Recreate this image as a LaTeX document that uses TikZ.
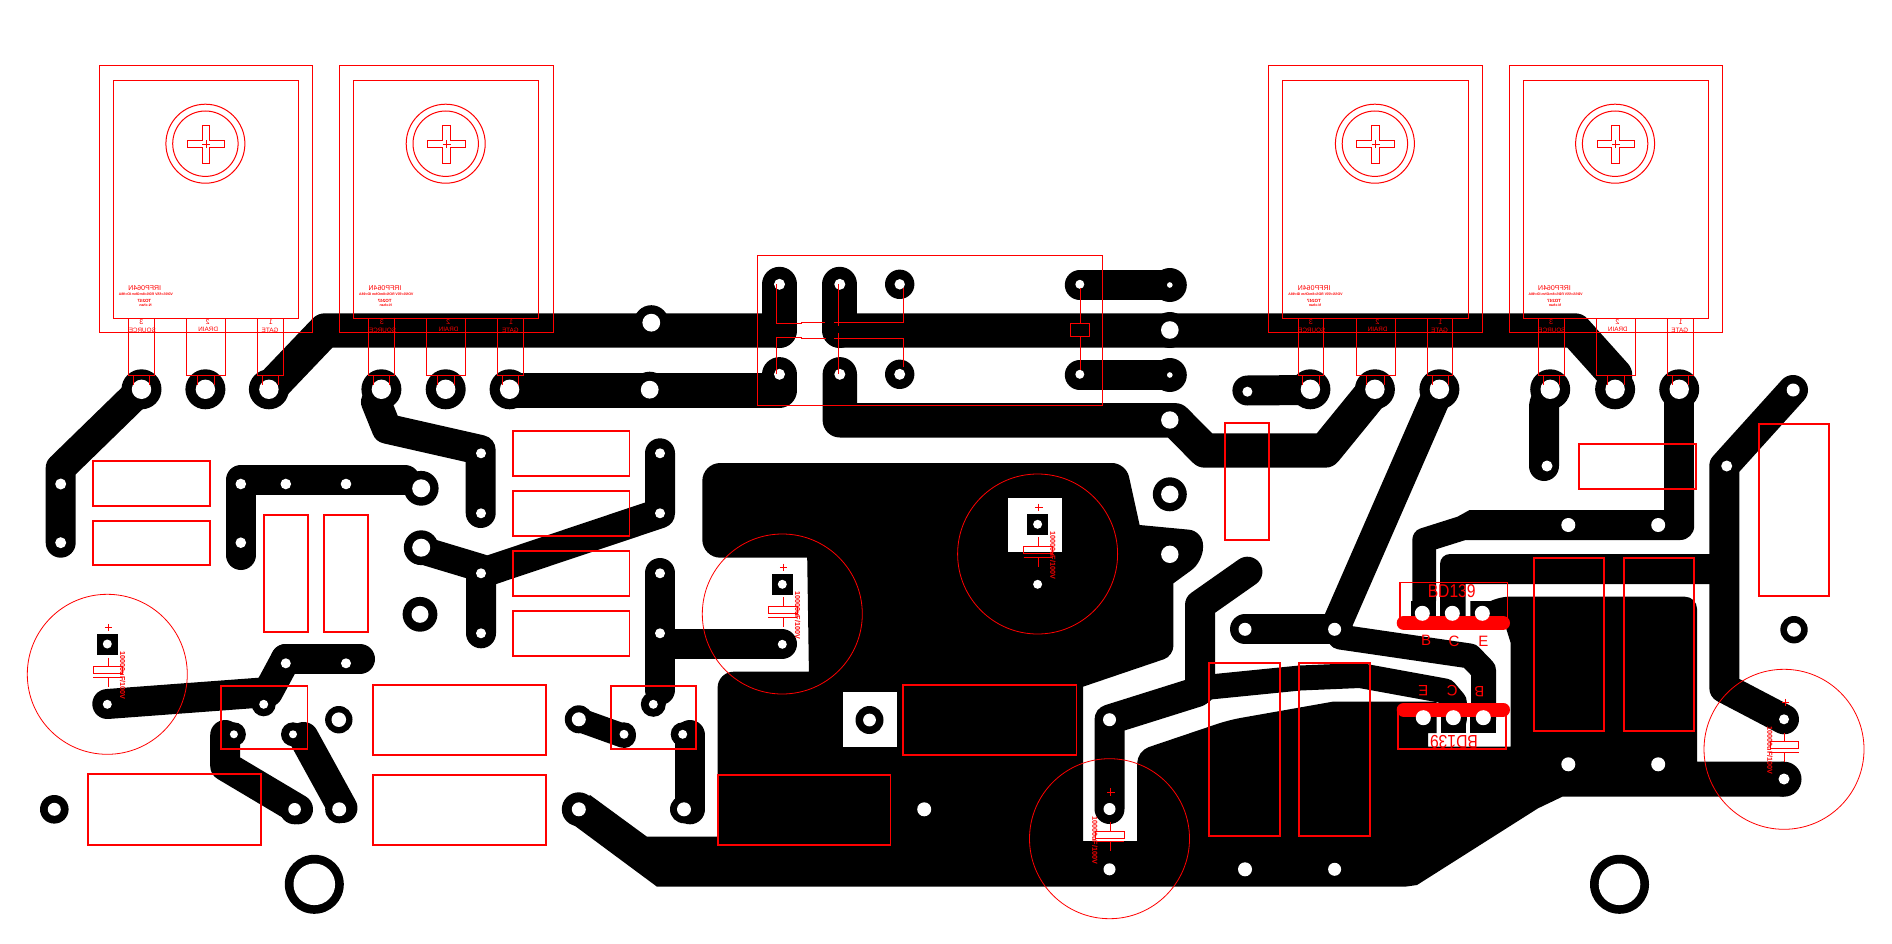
\documentclass[tikz,border=0pt]{standalone}
\usepackage{fontspec}
\setmainfont{Liberation Sans}
\newcommand{\fsz}[1]{\fontsize{#1}{#1}\selectfont}
\tikzset{
  tr/.style={line width=30pt,line cap=round,line join=round,draw=black},
  thin/.style={draw=red,line width=1pt},
  box/.style={draw=red,line width=1.8pt},
  hair/.style={draw=red,line width=0.8pt},
  lab/.style={text=red,inner sep=0pt,outer sep=0pt},
}
% power transistor outline: name, centre x
\newcommand{\device}[2]{%
  \begin{scope}[shift={(#2,0)}]
    \draw[thin] (-106.1,65.3) rectangle (107.3,332.7);
    \draw[thin] (-92.1,80.3) rectangle (93.2,318.3);
    \draw[thin] (0,143.7) circle[radius=39.5pt];
    \draw[thin] (0,143.7) circle[radius=32.7pt];
    \draw[thin] (-3.2,125.3) -- (4.4,125.3) -- (4.4,140.3) -- (19.3,140.3) -- (19.3,147.7) -- (4.4,147.7) -- (4.4,163.3) -- (-3.2,163.3) -- (-3.2,147.7) -- (-18.1,147.7) -- (-18.1,140.3) -- (-3.2,140.3) -- cycle;
    \draw[thin] (-3.2,144.3) -- (4.8,144.3) (0.8,140.3) -- (0.8,148.3);
    \draw[thin] (-76.8,318.3) rectangle (-51.1,375);
    \draw[thin] (-18.9,318.3) rectangle (20.1,375);
    \draw[thin] (52.2,318.3) rectangle (78,375);
    \draw[thin] (-72,375) -- (-72,385) (-55.9,375) -- (-55.9,385);
    \draw[thin] (-8.1,375) -- (-8.1,385) (9.2,375) -- (9.2,385);
    \draw[thin] (57.1,375) -- (57.1,385) (73.1,375) -- (73.1,385);
    \node[lab] (#1-a) at (-60.7,288.3) {\reflectbox{\fsz{7}IRFP064N}};
    \node[lab] (#1-b) at (-59.5,294) {\reflectbox{\fsz{3.5}\bfseries VDSS=55V RDS=8mOhm ID=98A}};
    \node[lab] (#1-c) at (-61,301) {\reflectbox{\fsz{4.5}\bfseries TO247}};
    \node[lab] (#1-d) at (-60,305.3) {\reflectbox{\fsz{3.6}\bfseries N-chan}};
    \node[lab] (#1-p3) at (-63.9,321.7) {\reflectbox{\fsz{7}3}};
    \node[lab] (#1-s) at (-63.1,330) {\reflectbox{\fsz{6.3}SOURCE}};
    \node[lab] (#1-p2) at (2.4,321.7) {\reflectbox{\fsz{7}2}};
    \node[lab] (#1-dr) at (2.8,329.3) {\reflectbox{\fsz{6.3}DRAIN}};
    \node[lab] (#1-p1) at (65.5,321.7) {\reflectbox{\fsz{7}1}};
    \node[lab] (#1-g) at (64.7,330.7) {\reflectbox{\fsz{6.3}GATE}};
  \end{scope}}
% electrolytic capacitor: name, centre x, centre y, text offset
\newcommand{\capsym}[4]{%
  \begin{scope}[shift={(#2,#3)}]
    \draw[hair] (0,0) circle[radius=80pt];
    \draw[thin] (-2.5,-46.7) -- (5,-46.7) (1.2,-50.5) -- (1.2,-43);
    \draw[thin] (0.8,-16.7) -- (0.8,-8);
    \draw[thin] (-14,-7.7) rectangle (14.7,-0.7);
    \draw[thin] (-14,3.2) -- (14.7,3.2);
    \draw[thin] (0.8,3.2) -- (0.8,12.7);
    \node[lab,rotate=270] (#1-v) at (#4,1.3) {\fsz{7.2}\bfseries 10000uF/100V};
  \end{scope}}
\begin{document}
\begin{tikzpicture}[x=1pt,y=-1pt]
\useasboundingbox (0,0) rectangle (1892,944);
\fill[white] (0,0) rectangle (1892,944);
% ground pour
\fill[black] (900,463) [rounded corners=14pt] -- (1126,463) [sharp corners] -- (1139.6,525) [rounded corners=14pt] -- (1203,531) -- (1203,561.7) [sharp corners] -- (1173.4,583.3) [rounded corners=10pt] -- (1173.4,656) [sharp corners] -- (1083,686.7) -- (1083,841) -- (1137.2,841) [rounded corners=12pt] -- (1137.2,751) -- (1228.9,720) [sharp corners] -- (1332.6,701.7) -- (1436.7,701.7) -- (1436.7,733) -- (1428,733) -- (1428,746.7) -- (1510.7,746.7) -- (1510.7,643) -- (1506,628) -- (1470.4,628) -- (1470.4,601) -- (1490,601) [rounded corners=12pt] -- (1497,596.7) -- (1697,596.7) [sharp corners] -- (1697,761.7) -- (1784,761.7) -- (1784,796.7) -- (1562.3,796.7) -- (1538,808.3) -- (1417,885) -- (1405,886.7) -- (657,886.7) -- (567,820) -- (590,795) -- (646.9,836.7) -- (717.6,836.7) [rounded corners=16pt] -- (717.6,671.7) [sharp corners] -- (808.9,671.7) -- (807.2,557.7) [rounded corners=18pt] -- (702.3,557.7) -- (702.3,463) -- cycle;
\fill[black] (1440,616) [rounded corners=10pt] -- (1440,554) [sharp corners] -- (1710,554) -- (1710,584) -- (1465.6,584) -- (1465.6,616) -- cycle;
\fill[black] (1410.5,601) rectangle (1436,616);
\fill[black] (1441,716) rectangle (1466,733);
\fill[black] (1470.4,716) rectangle (1495.5,733);
% clearances in the pour
\fill[white] (1008.2,498) rectangle (1062,552);
\fill[white] (843,692) rectangle (897.3,746.7);
% capacitor pads
\fill[black] (96.9,634) rectangle (118.2,655);
\fill[black] (771.7,574) rectangle (793,595);
\fill[black] (1027,514) rectangle (1048,535);
% traces
\draw[tr] (141.5,389.3) -- (60.7,468) -- (60.7,542.7);
\draw[tr,line width=34.4pt] (268.9,389.3) -- (325,330.5) -- (779.5,330.5);
\draw[tr,line width=35pt] (779.5,284.3) -- (779.5,330.5);
\draw[tr,line width=35pt] (839.8,284.3) -- (839.8,330.5);
\draw[tr,line width=34.4pt] (839.8,330.5) -- (1575,330.5) -- (1615,375) -- (1615,389.3);
\draw[tr,line width=34.4pt] (839.8,374.3) -- (839.8,420.3) -- (1175,420.3) -- (1205,450.5) -- (1325,450.5) -- (1374.9,389.3);
\draw[tr,line width=34.4pt] (509.6,390.5) -- (779.5,390.5) -- (779.5,374.3);
\draw[tr] (1247.4,390.5) -- (1310.4,390);
\draw[tr] (1079.8,285) -- (1169.8,285);
\draw[tr] (1079.8,375) -- (1169.8,375);
\draw[tr] (381.4,389) -- (376,402) -- (386.8,428.7) -- (480.7,450) -- (480.7,513);
\draw[tr] (240.8,555) -- (240.8,480) -- (405,480);
\draw[tr,line width=28pt] (421.2,550) -- (481,568);
\draw[tr] (660,453.3) -- (660,513.3) -- (481,573.3) -- (481,633.3);
\draw[tr] (107.3,704) -- (262,692.5);
\draw[tr] (285.8,659) -- (268,692);
\draw[tr] (285.8,659) -- (360,659);
\draw[tr] (225.2,735) -- (225.2,766) -- (298,809.3);
\draw[tr] (303.5,737) -- (342.5,808);
\draw[tr] (660,573) -- (660,690);
\draw[tr] (660,644) -- (782,644);
\draw[tr] (690,735) -- (690,809.3);
\draw[tr,line width=24pt] (585,722) -- (624,736);
\draw[tr] (1550.2,389) -- (1544,405) -- (1544,466);
\draw[tr] (1679.2,389) -- (1679.2,510);
\fill[black] (1694.2,480) -- (1694.2,525) [rounded corners=14pt] -- (1694.2,540) [sharp corners] -- (1465.6,540) -- (1436,549.3) -- (1436,601) -- (1412.4,601) -- (1412.4,540) [rounded corners=8pt] -- (1412.4,531) [sharp corners] -- (1457.5,516.7) -- (1469.6,510) -- (1664.2,510) -- (1664.2,480) -- cycle;
\draw[tr] (1334.6,629.3) -- (1245,629.3);
\draw[tr] (1334.6,629.3) -- (1439.4,389.3);
\draw[tr,line width=25pt] (1340,637) -- (1470,656) -- (1483.5,670) -- (1483.5,720);
\draw[tr] (1109.5,809) -- (1109.5,719.5) -- (1197,692);
\draw[tr] (1247.4,571.7) -- (1200,605) -- (1200,690);
\draw[tr,line width=25pt] (1200,688) -- (1300,678) -- (1360,675.5) -- (1445,691) -- (1454.3,702) -- (1454.3,720);
\draw[tr] (1793,390) -- (1724.3,466) -- (1724.3,688) -- (1784,719.3);
% round pads
\foreach \x in {141.5,205.4,268.9,381.4,445.7,509.6,1310.4,1374.9,1439.4,1550.2,1615.1,1679.2}
  \fill[black] (\x,389.3) circle[radius=20pt];
\foreach \x/\y/\r in {651.3/322.7/17.5,649.7/389.7/18,1169.8/330/18,1169.8/420/17,1169.8/285/17,1169.8/375/17,1169.8/494.3/17,899.7/284.3/14.7,899.7/374.3/14.7,869.5/720/14,421.2/488.3/17.4,421.2/547.7/17.4,420/614.3/17.4,338.8/719.7/13.7,54.3/809.3/14.3,263.7/704.3/12,233.9/734.3/12,293/734.3/12,294.6/809.3/15,339.2/809.3/14,578.8/719.3/14,624/734.3/12,653.3/704.3/12.5,682.7/734.3/12,684/809.3/14,578.8/809.3/17,1794/629.7/13.7,1784/779.2/17.5,314.3/884.3/29.5,1619.5/884.3/29.5}
  \fill[black] (\x,\y) circle[radius=\r pt];
% BD139 bars
\draw[red,line width=14pt,line cap=round] (1403.7,623) -- (1503,623);
\draw[red,line width=14pt,line cap=round] (1403.7,709.5) -- (1503,709.5);
% holes
\foreach \x in {141.5,205.4,268.9,381.4,445.7,509.6,1310.4,1374.9,1439.4,1550.2,1615.1,1679.2}
  \fill[white] (\x,389.3) circle[radius=9.7pt];
\foreach \x/\y/\r in {651.3/322.7/8.9,649.7/389.7/8.9,1169.8/330/8.8,1169.8/420/8.7,1169.8/494.3/8.7,1169.8/554.3/8.7,1169.8/285/2.8,1169.8/375/2.8,1079.8/284.3/4.5,1079.8/374.3/4.5,899.7/284.3/5.2,899.7/374.3/5.5,779.5/284.3/5.5,779.5/374.3/5.5,839.8/284.3/5.5,839.8/374.3/5.5,60.7/484/5.5,60.7/542.7/5.5,240.8/484/5.3,285.8/484/5.3,346/484/5.3,240.8/542.7/5.3,421.2/488.3/9,421.2/547.7/9,420/614.3/8.5,481/453.3/5,481/513.3/5,481/573.3/5,481/633.3/5,660/453.3/5,660/513.3/5,660/573.3/5,660/633.3/5,285.8/663.3/5,346/663.3/5,263.7/704.3/4.5,233.9/734.3/4,293/734.3/4,294.6/809.3/6.3,339.2/809.3/7,338.8/719.7/7.3,54.3/809.3/6.5,314.3/884.3/20.8,1619.5/884.3/20.8,107.3/644/4.5,107.3/704.3/4.5,782.3/584.3/4.5,782.3/644.3/4.5,1037.6/524.3/4.5,1037.6/584.3/4.5,1109.5/809/6,1109.5/869.3/6,1109.5/719.7/6.5,1245/869.3/7,1784/719.3/5,1784/779/5.5,869.5/720/6.4,924.2/809.3/7,578.8/719.3/7,624/734.3/4.5,578.8/809.3/7,653.3/704.3/4.5,682.7/734.3/4.5,684/809.3/7,1247.4/391.7/5,1245/629.3/6.5,1334.6/629.3/6.5,1334.6/869.3/6.5,1568.3/525/7,1658.2/525/7,1568.3/764.3/7,1658.2/764.3/7,1547/466/5.5,1793.2/390/6.5,1726.7/466/5.5,1794/629.7/7,1422.3/613.3/7.5,1452.3/613.3/7.5,1482.3/613.3/7.5,1423.3/717.7/7.5,1453.3/717.7/7.5,1483.3/717.7/7.5}
  \fill[white] (\x,\y) circle[radius=\r pt];
% red component rectangles
\foreach \a/\b/\c/\d in {92.8/461/210.2/506,92.8/520.7/210.2/565,264/514.7/308.3/632,324/514.7/368/632,512.9/430.7/629.4/476,512.9/490.7/629.4/536,512.9/551/629.4/596,512.9/610.7/629.4/656,221/686/307.5/748.7,373/685/546.2/755,373/775/546.2/845,87.6/774/261.3/845,611/686/696.3/748.7,717.6/775/890.5/845,903.3/685/1076.5/755,1209.2/662.7/1280/836,1298.7/662.7/1370/836,1534/557.7/1604.2/730.7,1624/557.7/1694/730.7,1578.8/444/1696/489,1759/424/1828.7/596,1224.8/422.7/1269/540}
  \draw[box] (\a,\b) rectangle (\c,\d);
% relay
\draw[thin] (757.4,255.3) rectangle (1102.7,405.3);
\draw[thin] (776.3,284.3) -- (776.3,323.3) -- (801.6,323.3) -- (801.6,322.3) -- (825,322.3);
\draw[thin] (834.2,322.3) -- (903.3,322.3) -- (903.3,288.3);
\draw[thin] (838.6,284.3) -- (838.6,325.7);
\draw[thin] (776.3,374.3) -- (776.3,337.3) -- (801.6,337.3) -- (801.6,338) -- (825.7,338);
\draw[thin] (834.2,338) -- (903.3,338) -- (903.3,366.7);
\draw[thin] (838.6,333.3) -- (838.6,374.3);
\draw[thin] (1070.5,323.3) rectangle (1089.8,336.7);
\draw[thin] (1080.2,288.3) -- (1080.2,323.3) (1080.2,336.7) -- (1080.2,370);
% transistors
\device{q1}{205.4}
\device{q2}{445.7}
\device{q3}{1374.9}
\device{q4}{1615.1}
% capacitors
\capsym{c1}{107.3}{674.3}{15.3}
\capsym{c2}{782.3}{614}{15.3}
\capsym{c3}{1037.6}{554}{15.3}
\capsym{c4}{1109.5}{838.7}{-14.5}
\capsym{c5}{1784}{749.3}{-14.2}
% BD139
\draw[red,line width=1.5pt] (1400,622) -- (1400,582.7) -- (1507.3,582.7) -- (1507.3,622);
\draw[red,line width=1.5pt] (1398,712) -- (1398,749) -- (1506,749) -- (1506,712);
\node[lab] (t1) at (1451.7,590.7) {\scalebox{0.95}[1.12]{\fsz{16.5}BD139}};
\node[lab] (tb) at (1426,640.7) {\fsz{15}B};
\node[lab] (tc) at (1454,641.7) {\fsz{15}C};
\node[lab] (te) at (1483.3,641.7) {\fsz{15}E};
\node[lab,rotate=180] (t2) at (1454,741.7) {\scalebox{0.95}[1.12]{\fsz{16.5}BD139}};
\node[lab,rotate=180] (be) at (1423.3,690.7) {\fsz{15}E};
\node[lab,rotate=180] (bc) at (1452.3,690.7) {\fsz{15}C};
\node[lab,rotate=180] (bb) at (1479.3,691.7) {\fsz{15}B};
\end{tikzpicture}
\end{document}
